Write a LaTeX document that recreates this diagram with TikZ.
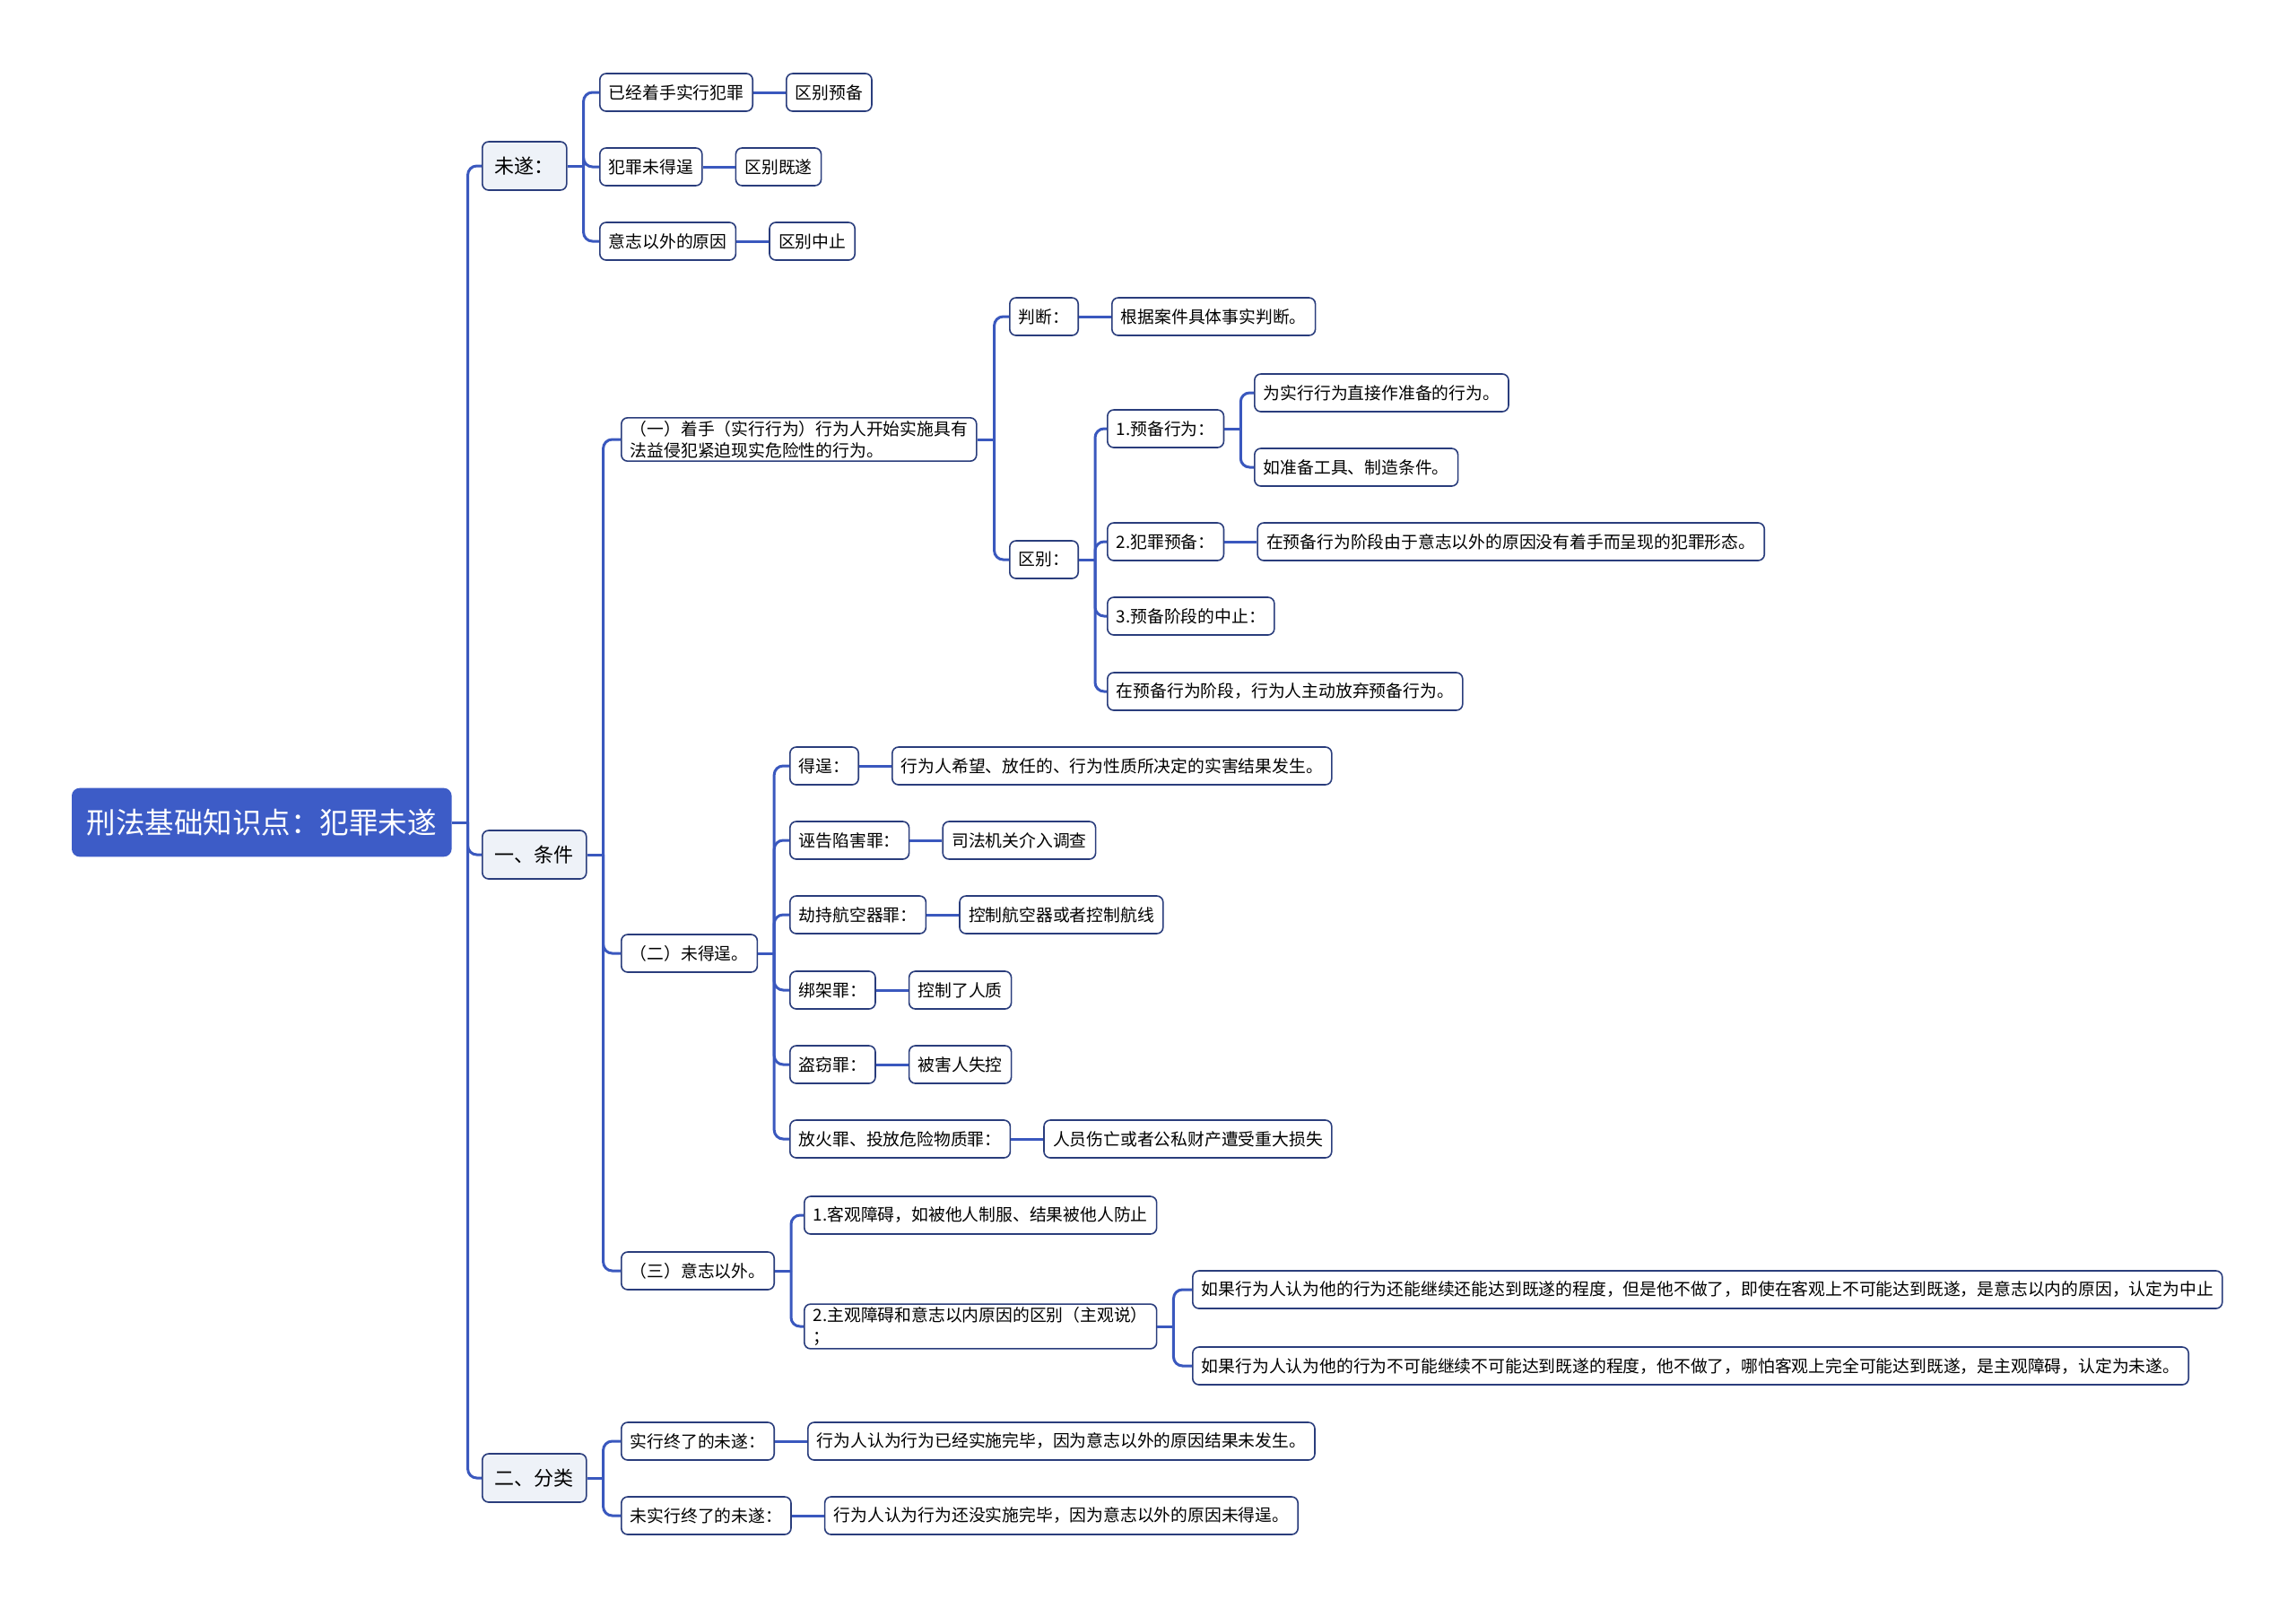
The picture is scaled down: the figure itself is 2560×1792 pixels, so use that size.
\documentclass[tikz,border=0pt]{standalone}
\usepackage{fontspec}
\setmainfont{Noto Sans CJK SC}
\usetikzlibrary{positioning}
\definecolor{rootblue}{HTML}{3D5CC7}
\definecolor{linkblue}{HTML}{3A58BE}
\definecolor{navy}{HTML}{2A3D7C}
\definecolor{pale}{HTML}{EEF2F8}
\begin{document}
\begin{tikzpicture}[x=1pt,y=-1pt,
  box/.style={draw=navy,line width=1.6pt,rounded corners=7pt,fill=white,anchor=west,inner xsep=10pt,minimum height=42pt,align=left,font=\fontsize{18.8}{24}\selectfont},
  topic/.style={box,fill=pale,inner xsep=14pt,minimum height=54pt,font=\fontsize{22}{26}\selectfont},
  root/.style={box,draw=rootblue,fill=rootblue,text=white,rounded corners=8pt,inner xsep=16pt,minimum height=75pt,font=\fontsize{32.5}{38}\selectfont},
  link/.style={linkblue,line width=3pt,rounded corners=10pt}]
\useasboundingbox (0,0) rectangle (2560,1792);
\node[root] (root) at (80,917) {刑法基础知识点：犯罪未遂};
\node[topic] (ws) at (537,185) {未遂：};
\node[topic] (tj) at (537,953) {一、条件};
\node[topic] (fl) at (537,1648) {二、分类};
\node[box] (wsA) at (668,103) {已经着手实行犯罪};
\node[box] (wsB) at (668,186) {犯罪未得逞};
\node[box] (wsC) at (668,269) {意志以外的原因};
\node[box,right=36pt of wsA] (wsAr) {区别预备};
\node[box,right=36pt of wsB] (wsBr) {区别既遂};
\node[box,right=36pt of wsC] (wsCr) {区别中止};
\node[box] (c1) at (692,490) {（一）着手（实行行为）行为人开始实施具有\\法益侵犯紧迫现实危险性的行为。};
\node[box] (c2) at (692,1063) {（二）未得逞。};
\node[box] (c3) at (692,1417) {（三）意志以外。};
\node[box] (pd) at (1125,353) {判断：};
\node[box,right=36pt of pd] (pdr) {根据案件具体事实判断。};
\node[box] (qb) at (1125,624) {区别：};
\node[box] (yb1) at (1234,478) {1.预备行为：};
\node[box] (yb2) at (1234,604) {2.犯罪预备：};
\node[box] (yb3) at (1234,687) {3.预备阶段的中止：};
\node[box] (yb4) at (1234,771) {在预备行为阶段，行为人主动放弃预备行为。};
\node[box] (yb1a) at (1398,438) {为实行行为直接作准备的行为。};
\node[box] (yb1b) at (1398,521) {如准备工具、制造条件。};
\node[box,right=36pt of yb2] (yb2r) {在预备行为阶段由于意志以外的原因没有着手而呈现的犯罪形态。};
\node[box] (d1) at (880,854) {得逞：};
\node[box] (d2) at (880,937) {诬告陷害罪：};
\node[box] (d3) at (880,1020) {劫持航空器罪：};
\node[box] (d4) at (880,1104) {绑架罪：};
\node[box] (d5) at (880,1187) {盗窃罪：};
\node[box] (d6) at (880,1270) {放火罪、投放危险物质罪：};
\node[box,right=36pt of d1] (d1r) {行为人希望、放任的、行为性质所决定的实害结果发生。};
\node[box,right=36pt of d2] (d2r) {司法机关介入调查};
\node[box,right=36pt of d3] (d3r) {控制航空器或者控制航线};
\node[box,right=36pt of d4] (d4r) {控制了人质};
\node[box,right=36pt of d5] (d5r) {被害人失控};
\node[box,right=36pt of d6] (d6r) {人员伤亡或者公私财产遭受重大损失};
\node[box] (z1) at (896,1355) {1.客观障碍，如被他人制服、结果被他人防止};
\node[box] (z2) at (896,1479) {2.主观障碍和意志以内原因的区别（主观说）\\；};
\node[box] (zz1) at (1329,1438) {如果行为人认为他的行为还能继续还能达到既遂的程度，但是他不做了，即使在客观上不可能达到既遂，是意志以内的原因，认定为中止};
\node[box] (zz2) at (1329,1523) {如果行为人认为他的行为不可能继续不可能达到既遂的程度，他不做了，哪怕客观上完全可能达到既遂，是主观障碍，认定为未遂。};
\node[box] (f1) at (692,1607) {实行终了的未遂：};
\node[box] (f2) at (692,1690) {未实行终了的未遂：};
\node[box,right=36pt of f1] (f1r) {行为人认为行为已经实施完毕，因为意志以外的原因结果未发生。};
\node[box,right=36pt of f2] (f2r) {行为人认为行为还没实施完毕，因为意志以外的原因未得逞。};
\draw[link] (root.east) -- ++(18,0) coordinate (rootbus);
\foreach \n in {ws,tj,fl} \draw[link] (rootbus) |- (\n.west);
\draw[link] (ws.east) -- ++(18,0) coordinate (wsbus);
\foreach \n in {wsA,wsB,wsC} \draw[link] (wsbus) |- (\n.west);
\foreach \n in {wsA,wsB,wsC} \draw[link] (\n.east) -- (\n r.west);
\draw[link] (tj.east) -- ++(18,0) coordinate (tjbus);
\foreach \n in {c1,c2,c3} \draw[link] (tjbus) |- (\n.west);
\draw[link] (c1.east) -- ++(19,0) coordinate (c1bus);
\foreach \n in {pd,qb} \draw[link] (c1bus) |- (\n.west);
\draw[link] (pd.east) -- (pdr.west);
\draw[link] (qb.east) -- ++(18,0) coordinate (qbbus);
\foreach \n in {yb1,yb2,yb3,yb4} \draw[link] (qbbus) |- (\n.west);
\draw[link] (yb1.east) -- ++(18,0) coordinate (yb1bus);
\foreach \n in {yb1a,yb1b} \draw[link] (yb1bus) |- (\n.west);
\draw[link] (yb2.east) -- (yb2r.west);
\draw[link] (c2.east) -- ++(18,0) coordinate (c2bus);
\foreach \n in {d1,d2,d3,d4,d5,d6} {\draw[link] (c2bus) |- (\n.west); \draw[link] (\n.east) -- (\n r.west);}
\draw[link] (c3.east) -- ++(18,0) coordinate (c3bus);
\foreach \n in {z1,z2} \draw[link] (c3bus) |- (\n.west);
\draw[link] (z2.east) -- ++(18,0) coordinate (z2bus);
\foreach \n in {zz1,zz2} \draw[link] (z2bus) |- (\n.west);
\draw[link] (fl.east) -- ++(18,0) coordinate (flbus);
\foreach \n in {f1,f2} {\draw[link] (flbus) |- (\n.west); \draw[link] (\n.east) -- (\n r.west);}
\end{tikzpicture}
\end{document}
